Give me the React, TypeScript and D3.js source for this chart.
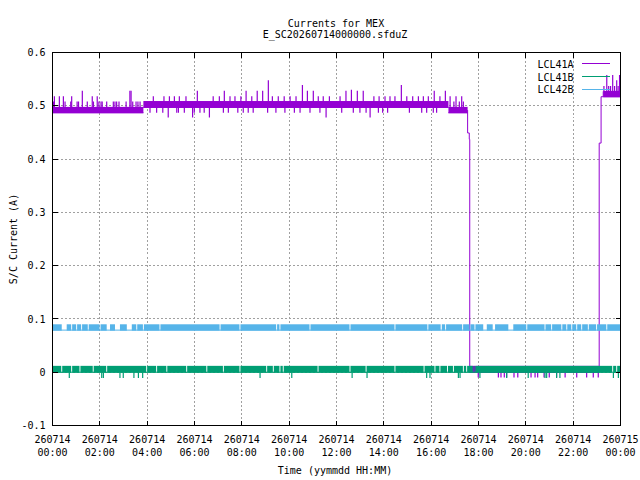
import * as d3 from "d3";

// gnuplot-style plot of three LCL currents over one day

const seriesNames = ["LCL41A", "LCL41B", "LCL42B"];
const seriesColors = ["#9400d3", "#009e73", "#56b4e9"];

const titleLines = ["Currents for MEX", "E_SC20260714000000.sfduZ"];
const xLabel = "Time (yymmdd HH:MM)";
const yLabel = "S/C Current (A)";

const yTicks = [-0.1, 0, 0.1, 0.2, 0.3, 0.4, 0.5, 0.6];
const yTickLabels = ["-0.1", "0", "0.1", "0.2", "0.3", "0.4", "0.5", "0.6"];
const xTickHours = [0, 2, 4, 6, 8, 10, 12, 14, 16, 18, 20, 22, 24];

// bands: the reading flickers between two quantised levels [startHour, endHour, low, high]
const bandsA = [
  [0, 3.84, 0.487, 0.497],
  [3.84, 16.73, 0.497, 0.508],
  [16.73, 17.54, 0.487, 0.497],
  [17.63, 23.10, 0.0, 0.011],
  [23.27, 24, 0.517, 0.527],
];
// single excursions out of the band [hour, value]
const spikesA = [
  [0.04, 0.508], [0.08, 0.518], [0.29, 0.518], [0.46, 0.518], [0.53, 0.508], [0.77, 0.508],
  [0.81, 0.518], [1.04, 0.508], [1.10, 0.508], [1.26, 0.528], [1.47, 0.508], [1.68, 0.518],
  [1.73, 0.508], [1.89, 0.518], [1.96, 0.508], [2.05, 0.508], [2.10, 0.508], [2.29, 0.508],
  [2.57, 0.508], [2.64, 0.508], [2.71, 0.508], [2.81, 0.508], [3.11, 0.508], [3.27, 0.528],
  [3.32, 0.528], [3.39, 0.508], [3.53, 0.508], [3.61, 0.508], [3.70, 0.508],
  [4.26, 0.518], [4.71, 0.518], [4.94, 0.518], [5.15, 0.518], [5.36, 0.518], [5.64, 0.518],
  [6.12, 0.528], [6.79, 0.518], [7.05, 0.518], [7.26, 0.528], [7.50, 0.518], [7.71, 0.518],
  [7.96, 0.518], [8.18, 0.528], [8.42, 0.518], [8.65, 0.528], [8.88, 0.528], [9.12, 0.548],
  [9.29, 0.518], [9.54, 0.518], [9.79, 0.518], [10.04, 0.518], [10.29, 0.518], [10.56, 0.539],
  [10.77, 0.528], [11.02, 0.528], [11.23, 0.518], [11.44, 0.518], [11.70, 0.518], [12.15, 0.518],
  [12.40, 0.528], [12.63, 0.530], [12.88, 0.528], [13.13, 0.528], [13.58, 0.518], [13.80, 0.518],
  [14.05, 0.518], [14.26, 0.518], [14.47, 0.518], [14.74, 0.539], [14.97, 0.518], [15.22, 0.518],
  [15.46, 0.518], [15.67, 0.518], [15.88, 0.518], [16.13, 0.528], [16.37, 0.518], [16.60, 0.528],
  [16.80, 0.518], [16.96, 0.508], [17.05, 0.518], [17.19, 0.508], [17.29, 0.518], [17.36, 0.508],
  [4.12, 0.487], [4.40, 0.487], [4.66, 0.487], [4.89, 0.478], [5.25, 0.487], [5.32, 0.487],
  [5.57, 0.487], [5.92, 0.478], [5.99, 0.487], [6.23, 0.487], [6.41, 0.487], [6.63, 0.478],
  [7.22, 0.487], [7.43, 0.487], [7.83, 0.487], [8.06, 0.487], [8.27, 0.487], [8.48, 0.487],
  [9.09, 0.487], [9.44, 0.487], [9.82, 0.487], [10.22, 0.487], [10.46, 0.487], [10.88, 0.487],
  [11.30, 0.487], [11.56, 0.478], [12.22, 0.487], [12.71, 0.487], [12.99, 0.487], [13.25, 0.487],
  [13.42, 0.478], [13.77, 0.487], [13.95, 0.487], [14.16, 0.487], [15.08, 0.487], [15.60, 0.487],
  [15.81, 0.487], [16.09, 0.487], [16.23, 0.487],
  [17.99, -0.01], [18.84, -0.01], [18.95, -0.01], [19.09, -0.01], [19.19, -0.01], [19.50, -0.01],
  [19.66, -0.01], [20.22, -0.01], [20.39, -0.01], [20.50, -0.01], [20.77, -0.01], [20.99, -0.01],
  [21.30, -0.01], [21.66, -0.01], [22.15, -0.01], [22.57, -0.01], [22.85, -0.01], [23.06, -0.01],
  [23.30, 0.537], [23.42, 0.558], [23.50, 0.537], [23.58, 0.537], [23.67, 0.558], [23.75, 0.537],
  [23.84, 0.548], [23.90, 0.537], [23.96, 0.558],
];
// switch-off and switch-on transitions [hour, value]
const dropA = [[17.54, 0.492], [17.54, 0.449], [17.61, 0.449], [17.61, 0.437], [17.63, 0.437], [17.63, 0.0]];
const riseA = [[23.10, 0.0], [23.10, 0.43], [23.18, 0.43], [23.18, 0.517], [23.27, 0.517], [23.27, 0.527]];

const bandsB = [[0, 24, 0.0, 0.011]];
// stretches where the reading stays on the lower level [startHour, endHour]
const gapsB = [
  [0.37, 0.41], [0.79, 0.83], [1.14, 1.18], [1.70, 1.74], [2.27, 2.31], [3.96, 4.00], [4.38, 4.42],
  [4.81, 4.85], [5.65, 5.69], [6.50, 6.54], [7.20, 7.24], [7.90, 7.94], [9.03, 9.07], [9.31, 9.35],
  [9.59, 9.63], [9.73, 9.77], [11.20, 11.24], [12.55, 12.59], [13.23, 13.27], [14.45, 14.49],
  [15.68, 15.72], [16.14, 16.18], [16.35, 16.39], [16.67, 16.71], [16.92, 16.96], [17.34, 17.38],
  [17.48, 17.52], [17.76, 17.80], [17.83, 17.87], [23.65, 23.69], [23.82, 23.86],
];
const spikesB = [
  [0.71, -0.011], [2.08, -0.011], [2.15, -0.011], [2.85, -0.011], [2.99, -0.011], [3.44, -0.011],
  [3.63, -0.011], [3.81, -0.011], [8.77, -0.011], [10.11, -0.011], [12.66, -0.011], [13.29, -0.011],
  [15.81, -0.011], [15.95, -0.011], [17.15, -0.011], [17.22, -0.011], [18.06, -0.011], [19.19, -0.011],
  [20.10, -0.011], [20.81, -0.011], [20.88, -0.011], [21.30, -0.011], [21.44, -0.011], [23.70, -0.011],
  [23.91, -0.011],
];

const bandsC = [[0, 24, 0.079, 0.089]];
const gapsC = [
  [0.39, 0.60], [0.79, 0.83], [1.00, 1.04], [1.21, 1.25], [1.49, 1.53], [1.99, 2.03], [2.29, 2.43],
  [2.64, 2.85], [3.14, 3.35], [3.54, 3.58], [3.82, 3.86], [4.52, 4.56], [7.06, 7.10], [7.90, 7.94],
  [9.45, 9.49], [9.59, 9.63], [10.86, 10.90], [12.55, 12.59], [14.45, 14.49], [15.84, 15.88],
  [16.40, 16.45], [16.59, 16.63], [17.31, 17.35], [17.62, 17.66], [17.83, 17.87], [18.20, 18.35],
  [18.60, 18.70], [19.26, 19.47], [20.02, 20.06], [20.79, 20.83], [21.07, 21.11], [21.50, 21.54],
  [21.71, 21.75], [21.92, 21.96], [22.13, 22.17], [22.34, 22.38], [22.62, 22.66], [22.97, 23.01],
  [23.40, 23.44],
];

const W = 640;
const H = 480;
const plot = { left: 52.5, right: 620.5, top: 52.5, bottom: 425.5 };
const day0 = Date.UTC(2026, 6, 14);
const toDate = (h: number) => new Date(day0 + h * 3600e3);

const x = d3.scaleUtc().domain([toDate(0), toDate(24)]).range([plot.left, plot.right]);
const y = d3.scaleLinear().domain([-0.1, 0.6]).range([plot.bottom, plot.top]);
const fmtDay = d3.utcFormat("%y%m%d");
const fmtTime = d3.utcFormat("%H:%M");
const font = '"DejaVu Sans Mono", monospace';

const line = d3
  .line<number[]>()
  .x((d) => x(toDate(d[0])))
  .y((d) => y(d[1]));

function splitBand(s: number, e: number, gaps: number[][]) {
  const pieces: number[][] = [];
  let cur = s;
  gaps
    .filter((g) => g[1] > s && g[0] < e)
    .sort((a, b) => a[0] - b[0])
    .forEach((g) => {
      if (g[0] > cur) pieces.push([cur, g[0]]);
      cur = Math.max(cur, g[1]);
    });
  if (cur < e) pieces.push([cur, e]);
  return pieces;
}

function Series({ bands, gaps, spikes, steps, color }: any) {
  return (
    <g>
      {bands.map((b: number[], i: number) => (
        <g key={i}>
          <path d={line([[b[0], b[2]], [b[1], b[2]]])!} stroke={color} strokeWidth={1} fill="none" />
          {splitBand(b[0], b[1], gaps).map((p, j) => (
            <rect
              key={j}
              x={x(toDate(p[0]))}
              width={Math.max(0.5, x(toDate(p[1])) - x(toDate(p[0])))}
              y={y(b[3]) - 0.5}
              height={y(b[2]) - y(b[3]) + 1}
              fill={color}
            />
          ))}
        </g>
      ))}
      {spikes.map((sp: number[], i: number) => {
        const b = bands.find((bb: number[]) => sp[0] >= bb[0] && sp[0] <= bb[1]);
        if (!b) return null;
        const from = sp[1] > b[3] ? b[3] : b[2];
        return (
          <path key={"s" + i} d={line([[sp[0], from], [sp[0], sp[1]]])!} stroke={color} strokeWidth={1.2} fill="none" />
        );
      })}
      {steps.map((st: number[][], i: number) => (
        <path key={"t" + i} d={line(st)!} stroke={color} strokeWidth={1} fill="none" />
      ))}
    </g>
  );
}

export default function App() {
  const tickLen = 5;
  return (
    <svg width={W} height={H} style={{ position: "absolute", left: 0, top: 0, background: "#fff" }} fontFamily={font} fontSize={10}>
      <rect width={W} height={H} fill="#fff" />
      <defs>
        <clipPath id="plotclip">
          <rect x={plot.left} y={plot.top} width={plot.right - plot.left} height={plot.bottom - plot.top} />
        </clipPath>
      </defs>
      {/* grid */}
      <g stroke="#a0a0a0" strokeWidth={1} strokeDasharray="2,2" shapeRendering="crispEdges">
        {xTickHours.slice(1, -1).map((h) => (
          <line key={h} x1={x(toDate(h))} x2={x(toDate(h))} y1={plot.top} y2={plot.bottom} />
        ))}
        {yTicks.slice(1, -1).map((v) => (
          <line key={v} x1={plot.left} x2={plot.right} y1={y(v)} y2={y(v)} />
        ))}
      </g>
      {/* data */}
      <g clipPath="url(#plotclip)">
        <Series bands={bandsA} gaps={[]} spikes={spikesA} steps={[dropA, riseA]} color={seriesColors[0]} />
        <Series bands={bandsB} gaps={gapsB} spikes={spikesB} steps={[]} color={seriesColors[1]} />
        <Series bands={bandsC} gaps={gapsC} spikes={[]} steps={[]} color={seriesColors[2]} />
      </g>
      {/* border and ticks */}
      <g stroke="#000" strokeWidth={1} shapeRendering="crispEdges">
        <rect x={plot.left} y={plot.top} width={plot.right - plot.left} height={plot.bottom - plot.top} fill="none" />
        {xTickHours.map((h) => (
          <g key={h}>
            <line x1={x(toDate(h))} x2={x(toDate(h))} y1={plot.bottom} y2={plot.bottom - tickLen} />
            <line x1={x(toDate(h))} x2={x(toDate(h))} y1={plot.top} y2={plot.top + tickLen} />
          </g>
        ))}
        {yTicks.map((v) => (
          <g key={v}>
            <line x1={plot.left} x2={plot.left + tickLen} y1={y(v)} y2={y(v)} />
            <line x1={plot.right} x2={plot.right - tickLen} y1={y(v)} y2={y(v)} />
          </g>
        ))}
      </g>
      {/* tick labels */}
      <g fill="#000">
        {yTicks.map((v, i) => (
          <text key={v} x={45.5} y={y(v) + 3.6} textAnchor="end">
            {yTickLabels[i]}
          </text>
        ))}
        {xTickHours.map((h) => (
          <text key={h} x={x(toDate(h))} textAnchor="middle">
            <tspan x={x(toDate(h))} y={442.5}>{fmtDay(toDate(h))}</tspan>
            <tspan x={x(toDate(h))} y={455.5}>{fmtTime(toDate(h))}</tspan>
          </text>
        ))}
        <text x={335} y={474} textAnchor="middle">{xLabel}</text>
        <text transform="translate(16.5,239) rotate(-90)" textAnchor="middle">{yLabel}</text>
        <text x={336} y={26.5} textAnchor="middle">{titleLines[0]}</text>
        <text x={335} y={37.5} textAnchor="middle">{titleLines[1]}</text>
      </g>
      {/* legend */}
      <g>
        {seriesNames.map((n, i) => (
          <g key={n}>
            <text x={573.5} y={67.8 + i * 12.8} textAnchor="end">{n}</text>
            <line x1={581.5} x2={610} y1={63.5 + i * 12.8} y2={63.5 + i * 12.8} stroke={seriesColors[i]} strokeWidth={1} shapeRendering="crispEdges" />
          </g>
        ))}
      </g>
    </svg>
  );
}
